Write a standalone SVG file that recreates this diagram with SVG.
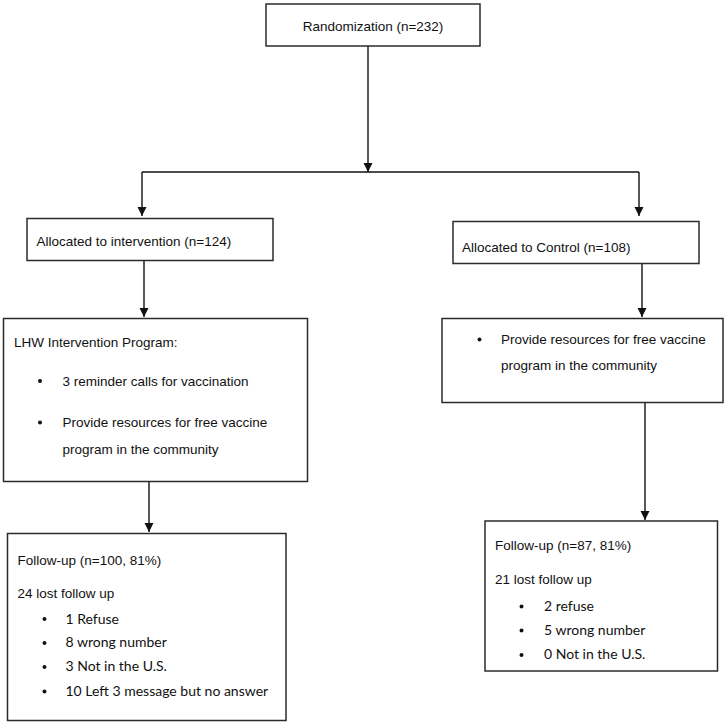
<svg xmlns="http://www.w3.org/2000/svg" width="727" height="725" viewBox="0 0 727 725">
<style>
.box{fill:#fff;stroke:#2b2b2b;stroke-width:1.5}
.ln{fill:none;stroke:#111;stroke-width:1.4}
.a{font-family:"Liberation Sans",Arial,sans-serif;font-size:13.5px;fill:#111}
.c{font-family:Lato,"Liberation Sans",sans-serif;font-size:14px;fill:#111}
.dot{fill:#111}
</style>
<defs>
<marker id="arr" markerUnits="userSpaceOnUse" markerWidth="10" markerHeight="10" refX="9" refY="4.5" orient="auto">
<path d="M0,0 L9,4.5 L0,9 z" fill="#111"/>
</marker>
</defs>
<rect width="727" height="725" fill="#fff"/>
<g id="connectors">
<line class="ln" x1="368" y1="46" x2="368" y2="172" marker-end="url(#arr)"/>
<line class="ln" x1="142" y1="172" x2="639" y2="172"/>
<line class="ln" x1="142" y1="172" x2="142" y2="216" marker-end="url(#arr)"/>
<line class="ln" x1="639" y1="172" x2="639" y2="216" marker-end="url(#arr)"/>
<line class="ln" x1="144" y1="261" x2="144" y2="317" marker-end="url(#arr)"/>
<line class="ln" x1="642" y1="263" x2="642" y2="317" marker-end="url(#arr)"/>
<line class="ln" x1="149" y1="482" x2="149" y2="532" marker-end="url(#arr)"/>
<line class="ln" x1="645" y1="403" x2="645" y2="520" marker-end="url(#arr)"/>
</g>
<g id="randomization">
<rect class="box" x="266" y="4" width="214" height="42"/>
<text class="a" x="373" y="31" text-anchor="middle">Randomization (n=232)</text>
</g>
<g id="alloc-intervention">
<rect class="box" x="27" y="218.5" width="246" height="42"/>
<text class="a" x="36.5" y="245.5">Allocated to intervention (n=124)</text>
</g>
<g id="alloc-control">
<rect class="box" x="453" y="221.5" width="246" height="42"/>
<text class="a" x="462" y="251.5">Allocated to Control (n=108)</text>
</g>
<g id="lhw-program">
<rect class="box" x="3.5" y="318.5" width="304" height="163"/>
<text class="a" x="14" y="346.5">LHW Intervention Program:</text>
<circle class="dot" cx="40" cy="381" r="2"/>
<text class="a" x="62.5" y="385.5">3 reminder calls for vaccination</text>
<circle class="dot" cx="40" cy="422.5" r="2"/>
<text class="a" x="62.5" y="426.5">Provide resources for free vaccine</text>
<text class="a" x="62.5" y="454">program in the community</text>
</g>
<g id="control-program">
<rect class="box" x="442" y="318.5" width="281" height="84"/>
<circle class="dot" cx="479.5" cy="339.5" r="2"/>
<text class="a" x="501" y="343.5">Provide resources for free vaccine</text>
<text class="a" x="501" y="369.5">program in the community</text>
</g>
<g id="followup-intervention">
<rect class="box" x="7.5" y="533.5" width="278.5" height="187"/>
<text class="a" x="17.5" y="565">Follow-up (n=100, 81%)</text>
<text class="a" x="17.5" y="598">24 lost follow up</text>
<circle class="dot" cx="44.5" cy="619" r="2"/>
<text class="c" x="65.5" y="623.5">1 Refuse</text>
<circle class="dot" cx="44.5" cy="643" r="2"/>
<text class="c" x="65.5" y="647">8 wrong number</text>
<circle class="dot" cx="44.5" cy="667" r="2"/>
<text class="c" x="65.5" y="671">3 Not in the U.S.</text>
<circle class="dot" cx="44.5" cy="691.5" r="2"/>
<text class="c" x="65.5" y="695.5">10 Left 3 message but no answer</text>
</g>
<g id="followup-control">
<rect class="box" x="485" y="521" width="232.5" height="150"/>
<text class="a" x="495" y="550">Follow-up (n=87, 81%)</text>
<text class="a" x="495" y="583.5">21 lost follow up</text>
<circle class="dot" cx="521.5" cy="606.5" r="2"/>
<text class="c" x="544" y="610.5">2 refuse</text>
<circle class="dot" cx="521.5" cy="630.5" r="2"/>
<text class="c" x="544" y="634.5">5 wrong number</text>
<circle class="dot" cx="521.5" cy="655" r="2"/>
<text class="c" x="544" y="658.5">0 Not in the U.S.</text>
</g>
</svg>
